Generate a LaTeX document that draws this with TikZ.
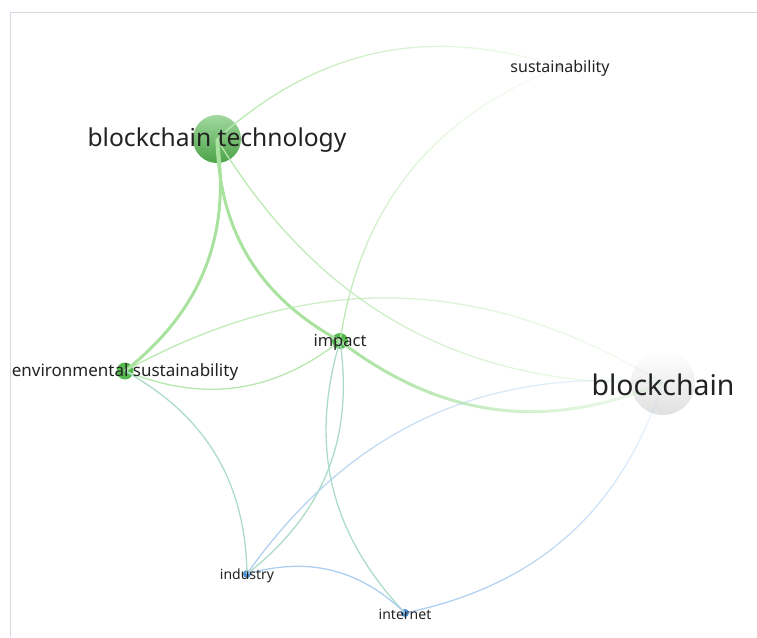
\documentclass[tikz,border=0pt]{standalone}
\usepackage{fontspec}
\setmainfont{Noto Sans}
\usetikzlibrary{fadings}

\definecolor{strongline}{RGB}{168,226,158}
\definecolor{weakline}{RGB}{182,231,172}
\definecolor{mixline}{RGB}{172,220,200}
\definecolor{blueline}{RGB}{172,206,240}
\definecolor{termgreen}{RGB}{85,185,80}
\definecolor{termblue}{RGB}{75,145,215}
\definecolor{termgrey}{RGB}{224,224,224}
\definecolor{labelgrey}{RGB}{34,34,34}
\definecolor{framegrey}{RGB}{212,217,228}

\tikzfading[name=fadeeast, left color=transparent!0, right color=transparent!88]
\tikzfading[name=fadenorth, bottom color=transparent!0, top color=transparent!88]

\begin{document}
\begin{tikzpicture}[x=1pt, y=-1pt,
    term/.style={circle, inner sep=0pt},
    greenterm/.style={term, fill=termgreen},
    blueterm/.style={term, fill=termblue},
    termlabel/.style={text=labelgrey, inner sep=0pt, yshift=-1.5pt},
    strong/.style={line width=3pt, strongline},
    weak/.style={line width=1.3pt, weakline},
    mixed/.style={line width=1.3pt, mixline},
    bluish/.style={line width=1.3pt, blueline},
    every to/.style={bend left=30}]
    \useasboundingbox (0,0) rectangle (757,637);
    \draw[framegrey, line width=0.8pt] (757,12) -- (10,12) -- (10,637);

    % Terms
    \node (bt) [term, minimum size=48pt, top color=termgreen!55!white, bottom color=termgreen!88!black] at (217,139) {};
    \node (bc) [term, minimum size=64pt, top color=white, bottom color=termgrey] at (663,383) {};
    \node (sust) [term, minimum size=7pt, fill=termgrey] at (560,67) {};
    \node (env) [greenterm, minimum size=17pt] at (125,371) {};
    \node (impact) [greenterm, minimum size=16pt] at (340,341) {};
    \node (industry) [blueterm, minimum size=8pt] at (247,574) {};
    \node (internet) [blueterm, minimum size=8pt] at (405,613) {};

    % Links inside the green cluster
    \draw[strong] (bt.center) to (env.center);
    \draw[strong] (impact.center) to (bt.center);
    \draw[strong, path fading=fadeeast] (bc.center) to (impact.center);
    \draw[weak, path fading=fadeeast] (bt.center) to (sust.center);
    \draw[weak, path fading=fadeeast] (bc.center) to (bt.center);
    \draw[weak] (impact.center) to (env.center);
    \draw[weak, path fading=fadeeast] (env.center) to (bc.center);
    \draw[weak, path fading=fadenorth] (impact.center) to (sust.center);

    % Links between the clusters
    \draw[mixed] (env.center) to (industry.center);
    \draw[mixed] (impact.center) to (industry.center);
    \draw[mixed] (internet.center) to (impact.center);

    % Links inside the blue cluster
    \draw[bluish, path fading=fadeeast] (industry.center) to (bc.center);
    \draw[bluish] (industry.center) to (internet.center);
    \draw[bluish, path fading=fadenorth] (bc.center) to (internet.center);

    % Labels
    \node (bt-lbl) [termlabel, font=\fontsize{24.6}{30}\selectfont] at (bt) {blockchain technology};
    \node (bc-lbl) [termlabel, font=\fontsize{28.4}{34}\selectfont] at (bc) {blockchain};
    \node (sust-lbl) [termlabel, font=\fontsize{16}{19}\selectfont] at (sust) {sustainability};
    \node (env-lbl) [termlabel, font=\fontsize{17}{20}\selectfont] at (env) {environmental sustainability};
    \node (impact-lbl) [termlabel, font=\fontsize{16.5}{20}\selectfont] at (impact) {impact};
    \node (industry-lbl) [termlabel, font=\fontsize{14}{17}\selectfont] at (industry) {industry};
    \node (internet-lbl) [termlabel, font=\fontsize{14}{17}\selectfont] at (internet) {internet};
\end{tikzpicture}
\end{document}
